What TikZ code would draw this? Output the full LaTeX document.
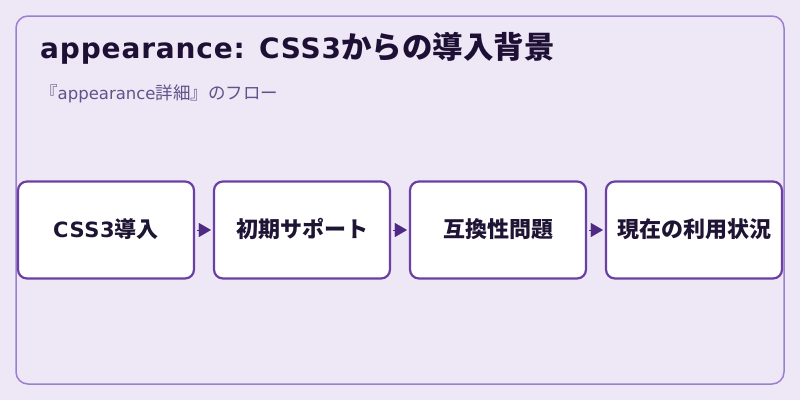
\documentclass[tikz,border=0pt]{standalone}
\usepackage{fontspec}
\setmainfont{Noto Sans CJK JP}
\newfontfamily\latA{DejaVu Sans}[LetterSpace=3]
\newfontfamily\latB{DejaVu Sans}[LetterSpace=3]
\newfontfamily\latC{DejaVu Sans}
\newfontfamily\cjkf{Noto Sans CJK JP}
\usetikzlibrary{arrows.meta}
\definecolor{bgc}{HTML}{EDE7F6}
\definecolor{framec}{HTML}{9C7FD0}
\definecolor{boxc}{HTML}{6A40A4}
\definecolor{arrc}{HTML}{4E2A84}
\definecolor{titlec}{HTML}{1E1034}
\definecolor{subc}{HTML}{62528A}
\definecolor{txtc}{HTML}{1E1433}
\newcommand\fsz[1]{\fontsize{#1}{#1}\selectfont}
\begin{document}
\begin{tikzpicture}[x=1pt,y=-1pt,
  stepbox/.style={draw=boxc,line width=2.2pt,fill=white,rounded corners=9pt,
    minimum width=176pt,minimum height=97pt,inner sep=0pt,
    text height=14pt,text depth=0pt,
    font=\cjkf\fsz{22}\bfseries,text=txtc},
  conn/.style={arrc,line width=0.1pt,-{Triangle[length=12pt,width=14pt]}}]
\useasboundingbox (0,0) rectangle (800,400);
\fill[bgc] (0,0) rectangle (800,400);
\draw[framec,line width=1.5pt,rounded corners=12pt] (16,16) rectangle (784,384);
\node[anchor=base west,text=titlec,font=\bfseries,inner sep=0pt] (title) at (40,58)
  {{\latA\fsz{28}appearance: CSS3}{\cjkf\fsz{30.5}からの導入背景}};
\node[anchor=base west,text=subc,inner sep=0pt] (sub) at (40,99.5)
  {{\cjkf\fsz{17.5}『}{\latC\fsz{16.5}appearance}{\cjkf\fsz{17.5}詳細』のフロー}};
\node[stepbox] (b1) at (106,230) {{\latB\fsz{21}CSS3}導入};
\node[stepbox] (b2) at (302,230) {初期サポート};
\node[stepbox] (b3) at (498,230) {互換性問題};
\node[stepbox] (b4) at (694,230) {現在の利用状況};
\foreach \a/\b in {b1/b2,b2/b3,b3/b4}
  \draw[conn] ([xshift=2pt]\a.east) -- ([xshift=-2pt]\b.west);
\end{tikzpicture}
\end{document}
